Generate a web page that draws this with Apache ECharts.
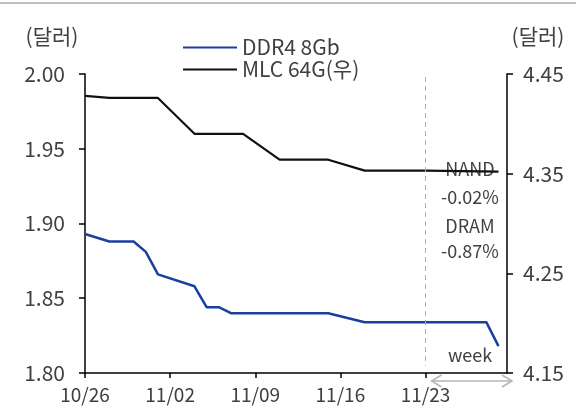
<!DOCTYPE html>
<html>
<head>
<meta charset="utf-8">
<script src="https://cdn.jsdelivr.net/npm/echarts@6/dist/echarts.min.js"></script>
<style>
  html, body { margin: 0; padding: 0; background: #fff; }
  #chart { width: 576px; height: 414px; }
</style>
</head>
<body>
<div id="chart"></div>
<script>
// Weekly x-axis labels (one per Monday)
const weekLabels = ['10/26', '11/02', '11/09', '11/16', '11/23'];

// DDR4 8Gb spot price (USD, left axis)
const ddr4Dates  = ['10/26', '10/28', '10/30', '10/31', '11/01', '11/04', '11/05', '11/06', '11/07', '11/15', '11/18', '11/28', '11/29'];
const ddr4Values = [1.893, 1.888, 1.888, 1.881, 1.866, 1.858, 1.844, 1.844, 1.840, 1.840, 1.834, 1.834, 1.818];

// MLC 64G spot price (USD, right axis)
const mlcDates  = ['10/26', '10/28', '11/01', '11/04', '11/08', '11/11', '11/15', '11/18', '11/23', '11/29'];
const mlcValues = [4.428, 4.426, 4.426, 4.390, 4.390, 4.364, 4.364, 4.353, 4.353, 4.352];

// Axis tick values
const leftTicks  = [1.80, 1.85, 1.90, 1.95, 2.00];
const rightTicks = [4.15, 4.25, 4.35, 4.45];

// Weekly change notes
const nandNote = ['NAND', '-0.02%'];
const dramNote = ['DRAM', '-0.87%'];

const YEAR = 2020;
const origin = Date.UTC(YEAR, 9, 26);
function dayOffset(md) {
  const [m, d] = md.split('/').map(Number);
  return Math.round((Date.UTC(YEAR, m - 1, d) - origin) / 86400000);
}
function pairs(dates, vals) { return dates.map((d, i) => [dayOffset(d), vals[i]]); }

const weekStart = dayOffset('11/23');
const xMax = 34.7;

const FONT = '"Noto Sans CJK KR", "Noto Sans", sans-serif';
const TXT = '#404040';

const chart = echarts.init(document.getElementById('chart'), null, { renderer: 'canvas' });

const option = {
  animation: false,
  backgroundColor: '#fff',
  textStyle: { fontFamily: FONT },
  grid: { left: 85, right: 69, top: 74, bottom: 41, containLabel: false },
  legend: {
    orient: 'vertical',
    left: 178,
    top: 32,
    itemWidth: 54,
    itemHeight: 2,
    itemGap: 1,
    icon: 'rect',
    textStyle: { fontFamily: FONT, fontSize: 21, color: TXT },
    data: ['DDR4 8Gb', 'MLC 64G(우)']
  },
  xAxis: {
    type: 'value',
    min: 0,
    max: xMax,
    interval: 7,
    axisLine: { show: true, lineStyle: { color: '#000', width: 1.5 } },
    axisTick: { show: true, length: 5, lineStyle: { color: '#000', width: 1.5 } },
    splitLine: { show: false },
    axisLabel: {
      fontFamily: FONT, fontSize: 19, color: TXT, margin: 12,
      showMaxLabel: false,
      formatter: v => weekLabels[Math.round(v / 7)] || ''
    }
  },
  yAxis: [
    {
      type: 'value',
      position: 'left',
      min: 1.80,
      max: 2.00,
      axisLine: { show: true, lineStyle: { color: '#000', width: 1.5 } },
      axisTick: { show: true, length: 6, customValues: leftTicks, lineStyle: { color: '#000', width: 1.5 } },
      splitLine: { show: false },
      axisLabel: {
        fontFamily: FONT, fontSize: 21, color: TXT, margin: 20,
        customValues: leftTicks,
        formatter: v => v.toFixed(2)
      }
    },
    {
      type: 'value',
      position: 'right',
      min: 4.15,
      max: 4.45,
      axisLine: { show: true, lineStyle: { color: '#000', width: 1.5 } },
      axisTick: { show: true, length: 6, customValues: rightTicks, lineStyle: { color: '#000', width: 1.5 } },
      splitLine: { show: false },
      axisLabel: {
        fontFamily: FONT, fontSize: 21, color: TXT, margin: 16,
        customValues: rightTicks,
        formatter: v => v.toFixed(2)
      }
    }
  ],
  series: [
    {
      name: 'DDR4 8Gb',
      type: 'line',
      yAxisIndex: 0,
      data: pairs(ddr4Dates, ddr4Values),
      showSymbol: false,
      symbol: 'none',
      color: '#1a3f9c',
      lineStyle: { color: '#1a3f9c', width: 2.5 },
      z: 3,
      markLine: {
        silent: true,
        symbol: 'none',
        label: { show: false },
        lineStyle: { type: [5, 4], color: '#b0b0b0', width: 1 },
        data: [[{ coord: [weekStart, 1.998] }, { coord: [weekStart, 1.805] }]]
      }
    },
    {
      name: 'MLC 64G(우)',
      type: 'line',
      yAxisIndex: 1,
      data: pairs(mlcDates, mlcValues),
      showSymbol: false,
      symbol: 'none',
      color: '#111',
      lineStyle: { color: '#111', width: 2.2 },
      z: 2
    }
  ]
};

chart.setOption(option);

// Annotations: axis units, weekly change notes, and the "week" span arrow
function drawAnnotations() {
  const x0 = chart.convertToPixel({ xAxisIndex: 0 }, weekStart) + 6;
  const x1 = chart.convertToPixel({ xAxisIndex: 0 }, xMax) + 5;
  const yA = chart.convertToPixel({ yAxisIndex: 0 }, 1.80) + 8;
  const cx = 470;
  const note = (text, y) => ({
    type: 'text', x: cx, y: y,
    style: { text, fontFamily: FONT, fontSize: 18, fill: TXT, align: 'center', verticalAlign: 'middle' }
  });
  const unit = (x) => ({
    type: 'text', x: x, y: 36,
    style: { text: '(달러)', fontFamily: FONT, fontSize: 21, fill: TXT, align: 'center', verticalAlign: 'middle' }
  });
  const arrowColor = '#b5b5b5';
  chart.setOption({
    graphic: [
      { type: 'rect', shape: { x: 0, y: 2, width: 576, height: 2 }, style: { fill: '#c0c0c0' } },
      unit(52),
      unit(538),
      note(nandNote[0], 169),
      note(nandNote[1], 197),
      note(dramNote[0], 226),
      note(dramNote[1], 251),
      note('week', 355),
      { type: 'line', shape: { x1: x0, y1: yA, x2: x1, y2: yA }, style: { stroke: arrowColor, lineWidth: 1.5 } },
      { type: 'polyline', shape: { points: [[x0 + 10, yA - 6], [x0, yA], [x0 + 10, yA + 6]] }, style: { stroke: arrowColor, lineWidth: 1.5, fill: null } },
      { type: 'polyline', shape: { points: [[x1 - 10, yA - 6], [x1, yA], [x1 - 10, yA + 6]] }, style: { stroke: arrowColor, lineWidth: 1.5, fill: null } }
    ]
  });
}
drawAnnotations();
</script>
</body>
</html>
